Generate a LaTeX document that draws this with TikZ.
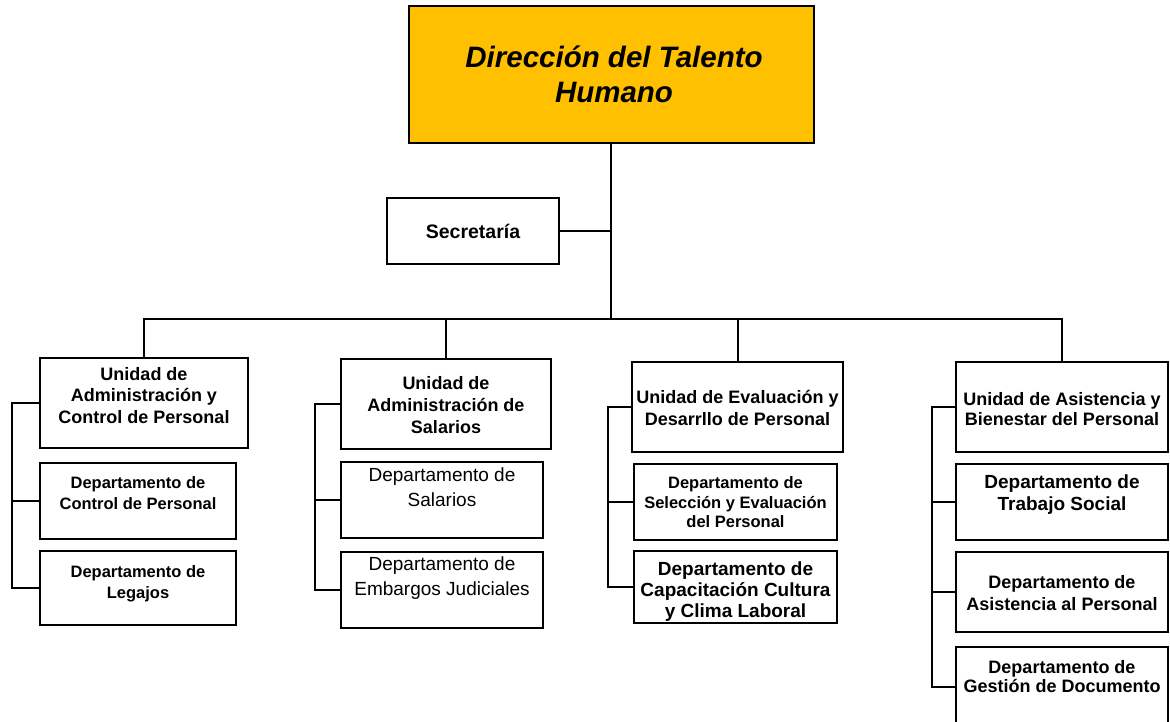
\documentclass[tikz,border=0pt]{standalone}
\usepackage{fontspec}
\setmainfont{Liberation Sans}
\definecolor{gold}{RGB}{255,192,0}
\begin{document}
\begin{tikzpicture}[x=1pt,y=-1pt,
  box/.style={draw=black,line width=2pt,fill=white,inner sep=0pt,outer sep=0pt},
  topbox/.style={box,fill=gold},
  conn/.style={draw=black,line width=2pt},
  txt/.style={inner sep=0pt,outer sep=0pt,align=center,anchor=north},
  fb/.style 2 args={font={\fontsize{#1}{#2}\selectfont\bfseries}},
  fr/.style 2 args={font={\fontsize{#1}{#2}\selectfont}}
]
\clip (0,0) rectangle (1170,722);
\fill[white] (0,0) rectangle (1170,722);

% boxes
\node[topbox,minimum width=405pt,minimum height=137pt] (top) at (611.5,74.5) {};
\node[box,minimum width=172pt,minimum height=66pt] (sec) at (473,231) {};

\node[box,minimum width=208pt,minimum height=90pt] (u1) at (144,403) {};
\node[box,minimum width=196pt,minimum height=76pt] (d11) at (138,501) {};
\node[box,minimum width=196pt,minimum height=74pt] (d12) at (138,588) {};

\node[box,minimum width=210pt,minimum height=90pt] (u2) at (446,404) {};
\node[box,minimum width=202pt,minimum height=76pt] (d21) at (442,500) {};
\node[box,minimum width=202pt,minimum height=76pt] (d22) at (442,590) {};

\node[box,minimum width=211pt,minimum height=90pt] (u3) at (737.5,407) {};
\node[box,minimum width=203pt,minimum height=76pt] (d31) at (735.5,502) {};
\node[box,minimum width=203pt,minimum height=72pt] (d32) at (735.5,587) {};

\node[box,minimum width=212pt,minimum height=90pt] (u4) at (1062,407) {};
\node[box,minimum width=212pt,minimum height=76pt] (d41) at (1062,502) {};
\node[box,minimum width=212pt,minimum height=80pt] (d42) at (1062,592) {};
\node[box,minimum width=212pt,minimum height=80pt] (d43) at (1062,687) {};

% coordinates
\coordinate (bus) at (611,319);
\coordinate (sp1) at (12,0);
\coordinate (sp2) at (315,0);
\coordinate (sp3) at (608,0);
\coordinate (sp4) at (932,0);

% connectors
\draw[conn] (bus |- top.south) -- (bus);
\draw[conn] (sec.east) -- (sec.east -| bus);
\draw[conn] (u1.north) |- (bus) -| (u4.north);
\draw[conn] (u2.north) -- (u2.north |- bus);
\draw[conn] ([xshift=0.5pt]u3.north) -- ([xshift=0.5pt]u3.north |- bus);

\draw[conn] (u1.west) -- (u1.west -| sp1) |- (d12.west);
\draw[conn] (d11.west) -- (d11.west -| sp1);
\draw[conn] (u2.west) -- (u2.west -| sp2) |- (d22.west);
\draw[conn] (d21.west) -- (d21.west -| sp2);
\draw[conn] (u3.west) -- (u3.west -| sp3) |- (d32.west);
\draw[conn] (d31.west) -- (d31.west -| sp3);
\draw[conn] (u4.west) -- (u4.west -| sp4) |- (d43.west);
\draw[conn] (d41.west) -- (d41.west -| sp4);
\draw[conn] (d42.west) -- (d42.west -| sp4);

% texts
\node[txt,font={\fontsize{29.5}{35}\selectfont\bfseries\itshape}] (ttop) at (614,46) {Dirección del Talento\\Humano};
\node[txt,fb={19.5}{23},anchor=center] (tsec) at (473,231) {Secretaría};

\node[txt,fb={18}{21.5}] (tu1) at (144,367) {Unidad de\\Administración y\\Control de Personal};
\node[txt,fb={16.5}{20.5}] (td11) at (138,477) {Departamento de\\Control de Personal};
\node[txt,fb={16.5}{20.5}] (td12) at (138,566) {Departamento de\\Legajos};

\node[txt,fb={18}{22}] (tu2) at (446,376) {Unidad de\\Administración de\\Salarios};
\node[txt,fr={19}{25}] (td21) at (442,468) {Departamento de\\Salarios};
\node[txt,fr={19}{25}] (td22) at (442,557) {Departamento de\\Embargos Judiciales};

\node[txt,fb={18}{22}] (tu3) at (737.5,390) {Unidad de Evaluación y\\Desarrllo de Personal};
\node[txt,fb={16.5}{19.5}] (td31) at (735.5,477) {Departamento de\\Selección y Evaluación\\del Personal};
\node[txt,fb={19}{21}] (td32) at (735.5,562) {Departamento de\\Capacitación Cultura\\y Clima Laboral};

\node[txt,fb={18}{20.5}] (tu4) at (1062,392) {Unidad de Asistencia y\\Bienestar del Personal};
\node[txt,fb={19}{22}] (td41) at (1062,475) {Departamento de\\Trabajo Social};
\node[txt,fb={18}{22}] (td42) at (1062,575) {Departamento de\\Asistencia al Personal};
\node[txt,fb={18}{19.5}] (td43) at (1062,660) {Departamento de\\Gestión de Documento};
\end{tikzpicture}
\end{document}
